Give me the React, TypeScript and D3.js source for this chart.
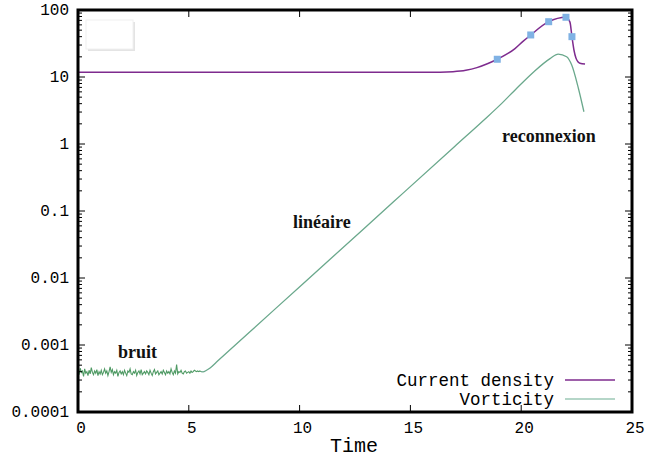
import React from "react";
import * as d3 from "d3";

const W = 647;
const H = 459;

// x ticks
const xTicks = [0, 5, 10, 15, 20, 25];
// y ticks (log)
const yTicks = [0.0001, 0.001, 0.01, 0.1, 1, 10, 100];
const yTickLabels = ["0.0001", "0.001", "0.01", "0.1", "1", "10", "100"];

// Vorticity noise phase, values in units of 1e-4, sampled every 0.05 time units from t=0
const noiseStep = 0.05;
const noiseVals = [
  4.3, 3.6, 4.5, 3.9, 4.1, 3.4, 4.4, 3.8, 4.0, 3.5, 4.2, 3.7, 4.6, 3.9, 3.6, 4.1, 3.8, 4.3, 3.5, 4.0,
  3.7, 4.2, 3.6, 3.9, 4.4, 3.8, 4.1, 3.5, 4.0, 4.7, 3.9, 4.3, 3.6, 4.0, 3.8, 4.2, 3.4, 3.9, 4.1, 3.7,
  4.0, 3.6, 4.2, 3.8, 3.5, 4.1, 3.9, 4.4, 3.7, 3.6, 4.0, 3.8, 4.2, 3.5, 3.9, 4.1, 3.7, 4.3, 3.6, 3.8,
  4.0, 3.7, 4.1, 3.9, 3.6, 4.2, 3.8, 3.5, 4.0, 4.3, 3.7, 3.9, 4.1, 3.6, 3.8, 4.0, 3.7, 4.2, 3.9, 3.6,
  4.1, 3.8, 4.0, 3.7, 4.4, 3.9, 3.6, 4.1, 3.8, 5.1, 3.7, 4.0, 3.9, 4.2, 3.8, 3.7, 4.0, 4.1, 3.8, 3.9,
  4.0, 3.8, 4.1, 3.9, 4.0, 4.2, 4.1, 4.0, 4.1, 4.0, 4.1, 4.0,
];

// Vorticity growth and reconnection phase
const vortTime = [5.64, 5.8, 5.96, 6.3, 8.9, 11.5, 14.25, 17.01, 18.37, 19.04, 19.8, 20.55, 21.3, 21.67, 22.05, 22.28, 22.58, 22.83];
const vortVals = [0.000398, 0.00042, 0.000455, 0.000575, 0.003459, 0.02075, 0.1384, 0.927, 2.36, 3.8, 6.8, 11.8, 18.8, 22.0, 20.1, 15.1, 6.8, 3.03];

// Current density
const curTime = [0, 13.63, 16.34, 16.92, 17.5, 18.0, 18.5, 18.92, 19.72, 20.08, 20.43, 21.24, 22.02, 22.2, 22.29, 22.38, 22.47, 22.65, 22.88];
const curVals = [11.75, 11.75, 11.8, 12.0, 12.6, 13.8, 15.9, 18.4, 26.5, 34, 42.4, 66.9, 77.9, 66, 40, 25.3, 19.2, 16.0, 15.6];

// Markers on current density
const markTime = [18.92, 20.43, 21.24, 22.02, 22.29];
const markVals = [18.4, 42.4, 66.9, 77.9, 40];

const legendLabels = ["Current density", "Vorticity"];
const colors = { cur: "#7e2b8e", vort: "#6aa88c", noise: "#4f9a64", mark: "#80b2e4" };

export default function App() {
  const left = 78, right = 632, top = 10, bottom = 412;
  const x = d3.scaleLinear().domain([0, 25]).range([left, right]);
  const y = d3.scaleLog().domain([0.0001, 100]).range([bottom, top]);

  const noisePts: [number, number][] = noiseVals.map((v, i) => [i * noiseStep, v * 1e-4]);
  const vortPts: [number, number][] = vortTime.map((t, i) => [t, vortVals[i]]);
  const curPts: [number, number][] = curTime.map((t, i) => [t, curVals[i]]);

  const lineLin = d3.line<[number, number]>().x((d) => x(d[0])).y((d) => y(d[1]));
  const lineSmooth = d3
    .line<[number, number]>()
    .x((d) => x(d[0]))
    .y((d) => y(d[1]))
    .curve(d3.curveMonotoneX);

  const minor: number[] = [];
  for (const base of [0.0001, 0.001, 0.01, 0.1, 1, 10]) {
    for (let k = 2; k <= 9; k++) minor.push(base * k);
  }

  const mono = "'Liberation Mono', 'Courier New', monospace";
  const serif = "'Liberation Serif', 'Times New Roman', serif";

  const noiseLast = noisePts[noisePts.length - 1];

  return (
    <div style={{ position: "fixed", left: 0, top: 0 }}>
      <svg width={W} height={H} style={{ display: "block", background: "#fff" }}>
        {/* empty key box */}
        <rect x={88} y={22} width={47} height={29} fill="#e4e4e4" />
        <rect x={86} y={20} width={47} height={29} fill="#fff" stroke="#f0f0f0" />

        {/* curves */}
        <path d={lineLin(noisePts) || ""} fill="none" stroke={colors.noise} strokeWidth={1.1} />
        <path
          d={lineSmooth([noiseLast, ...vortPts]) || ""}
          fill="none"
          stroke={colors.vort}
          strokeWidth={1.3}
        />
        <path d={lineSmooth(curPts) || ""} fill="none" stroke={colors.cur} strokeWidth={1.5} />
        {markTime.map((t, i) => (
          <rect key={i} x={x(t) - 3.5} y={y(markVals[i]) - 3.5} width={7} height={7} fill={colors.mark} />
        ))}

        {/* frame */}
        <rect x={left} y={top} width={right - left} height={bottom - top} fill="none" stroke="#000" strokeWidth={3} />

        {/* x ticks */}
        {xTicks.map((t) => (
          <g key={t}>
            <line x1={x(t)} x2={x(t)} y1={bottom} y2={bottom - 7} stroke="#000" strokeWidth={1} />
            <line x1={x(t)} x2={x(t)} y1={top} y2={top + 7} stroke="#000" strokeWidth={1} />
            <text x={x(t) + 3} y={433} textAnchor="middle" fontFamily={mono} fontSize={16} fill="#000">
              {t}
            </text>
          </g>
        ))}

        {/* y ticks */}
        {yTicks.map((v, i) => (
          <g key={v}>
            <line x1={left} x2={left + 7} y1={y(v)} y2={y(v)} stroke="#000" strokeWidth={1} />
            <line x1={right} x2={right - 7} y1={y(v)} y2={y(v)} stroke="#000" strokeWidth={1} />
            <text x={69} y={y(v) + 5} textAnchor="end" fontFamily={mono} fontSize={16} fill="#000">
              {yTickLabels[i]}
            </text>
          </g>
        ))}
        {minor.map((v, i) => (
          <g key={"m" + i}>
            <line x1={left} x2={left + 4} y1={y(v)} y2={y(v)} stroke="#000" strokeWidth={1} />
            <line x1={right} x2={right - 4} y1={y(v)} y2={y(v)} stroke="#000" strokeWidth={1} />
          </g>
        ))}

        {/* axis title */}
        <text x={354} y={452} textAnchor="middle" fontFamily={mono} fontSize={20} fill="#000">
          Time
        </text>

        {/* annotations */}
        <text x={118} y={358} fontFamily={serif} fontWeight="bold" fontSize={18} fill="#111">
          bruit
        </text>
        <text x={293} y={228} fontFamily={serif} fontWeight="bold" fontSize={18} fill="#111">
          linéaire
        </text>
        <text x={502} y={142} fontFamily={serif} fontWeight="bold" fontSize={18} fill="#111">
          reconnexion
        </text>

        {/* legend */}
        <text x={554} y={386} textAnchor="end" fontFamily={mono} fontSize={17.5} fill="#000">
          {legendLabels[0]}
        </text>
        <line x1={565} x2={615} y1={380} y2={380} stroke={colors.cur} strokeWidth={1.5} />
        <text x={554} y={405} textAnchor="end" fontFamily={mono} fontSize={17.5} fill="#000">
          {legendLabels[1]}
        </text>
        <line x1={565} x2={615} y1={399} y2={399} stroke="#9cc9b6" strokeWidth={1.5} />
      </svg>
    </div>
  );
}
